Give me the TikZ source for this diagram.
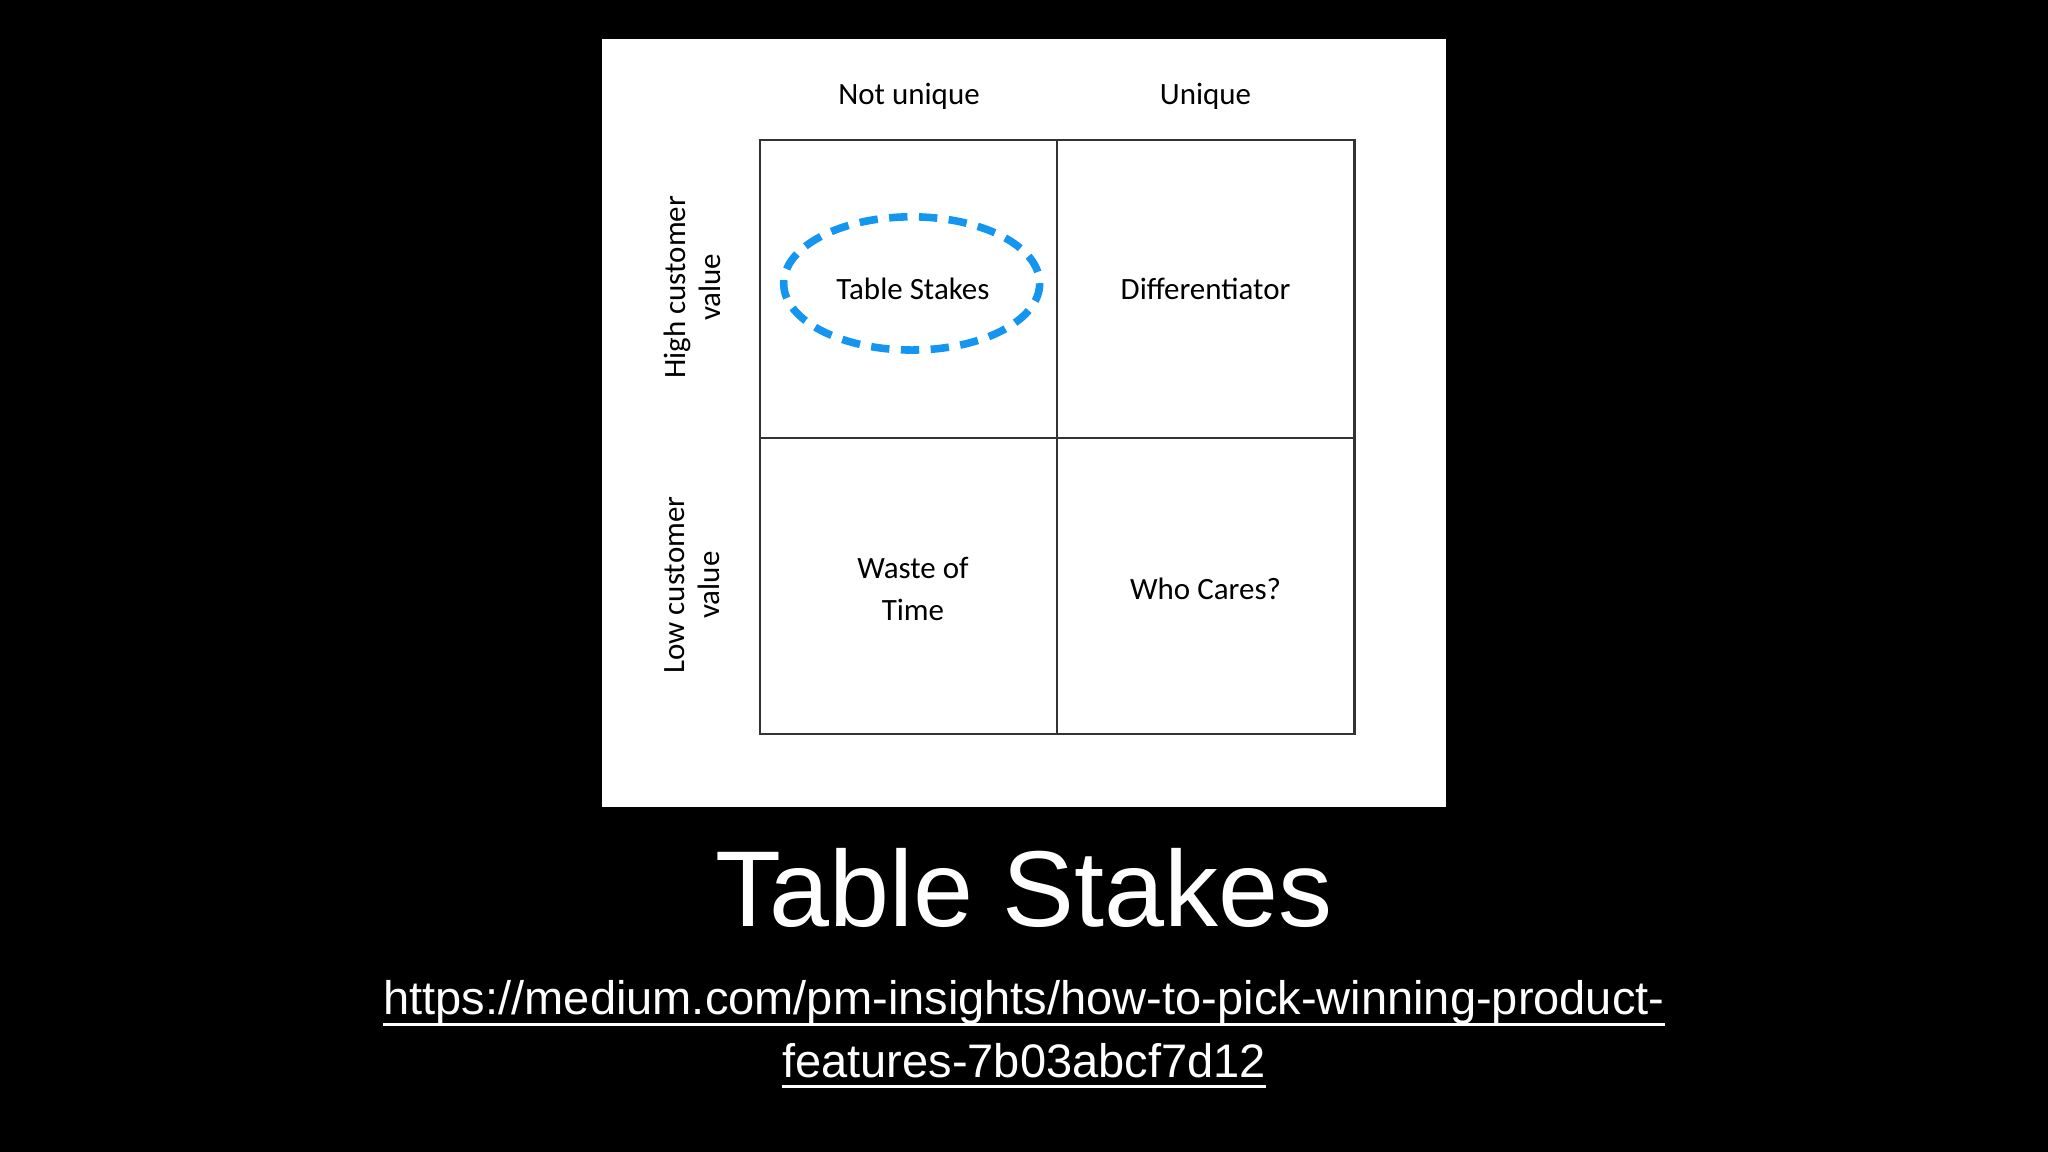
\documentclass[tikz,border=0pt]{standalone}
\usepackage{fontspec}
\setmainfont{Liberation Sans}
\newfontfamily\carlitofont{Carlito}
\begin{document}
\begin{tikzpicture}[x=0.02cm,y=-0.02cm,
  lab/.style={font=\carlitofont\fontsize{13.5}{16}\selectfont,align=center,inner sep=0},
  urltext/.style={text=white,font=\fontsize{20.5}{27}\selectfont,inner sep=0,anchor=base},
  uline/.style={draw=white,line width=1.3pt},
  cellline/.style={draw=black!80,line width=0.9pt}]
\fill[black] (0,0) rectangle (1568,882);
\useasboundingbox (0,0) rectangle (1568,882);
\fill[white] (461,30) rectangle (1107,618);
\draw[cellline] (582,107) rectangle (1037,562);
\draw[cellline] (809,107) -- (809,562);
\draw[cellline] (582,335) -- (1037,335);
\node[lab] (nu) at (696,74) {Not unique};
\node[lab] (un) at (923,74) {Unique};
\node[lab,rotate=90] (hv) at (530,220) {High customer\\[-1pt]value};
\node[lab,rotate=90] (lv) at (530,448) {Low customer\\[-1pt]value};
\node[lab] (ts) at (699,221) {Table Stakes};
\node[lab] (df) at (923,221) {Differentiator};
\node[lab] (wt) at (699,451) {Waste of\\[2pt]Time};
\node[lab] (wc) at (923,451) {Who Cares?};
\draw[color={rgb,255:red,20;green,150;blue,240},line width=3.3pt,dash pattern=on 8pt off 5pt] (698,217) ellipse [x radius=98,y radius=51];
\node[text=white,font=\fontsize{47}{50}\selectfont,inner sep=0] (title) at (784,680) {Table Stakes};
\node[urltext] (u1) at (784,777) {https://medium.com/pm-insights/how-to-pick-winning-product-};
\node[urltext] (u2) at (784,825) {features-7b03abcf7d12};
\draw[uline] ([yshift=-4pt]u1.base west) -- ([yshift=-4pt]u1.base east);
\draw[uline] ([yshift=-4pt]u2.base west) -- ([yshift=-4pt]u2.base east);
\end{tikzpicture}
\end{document}
